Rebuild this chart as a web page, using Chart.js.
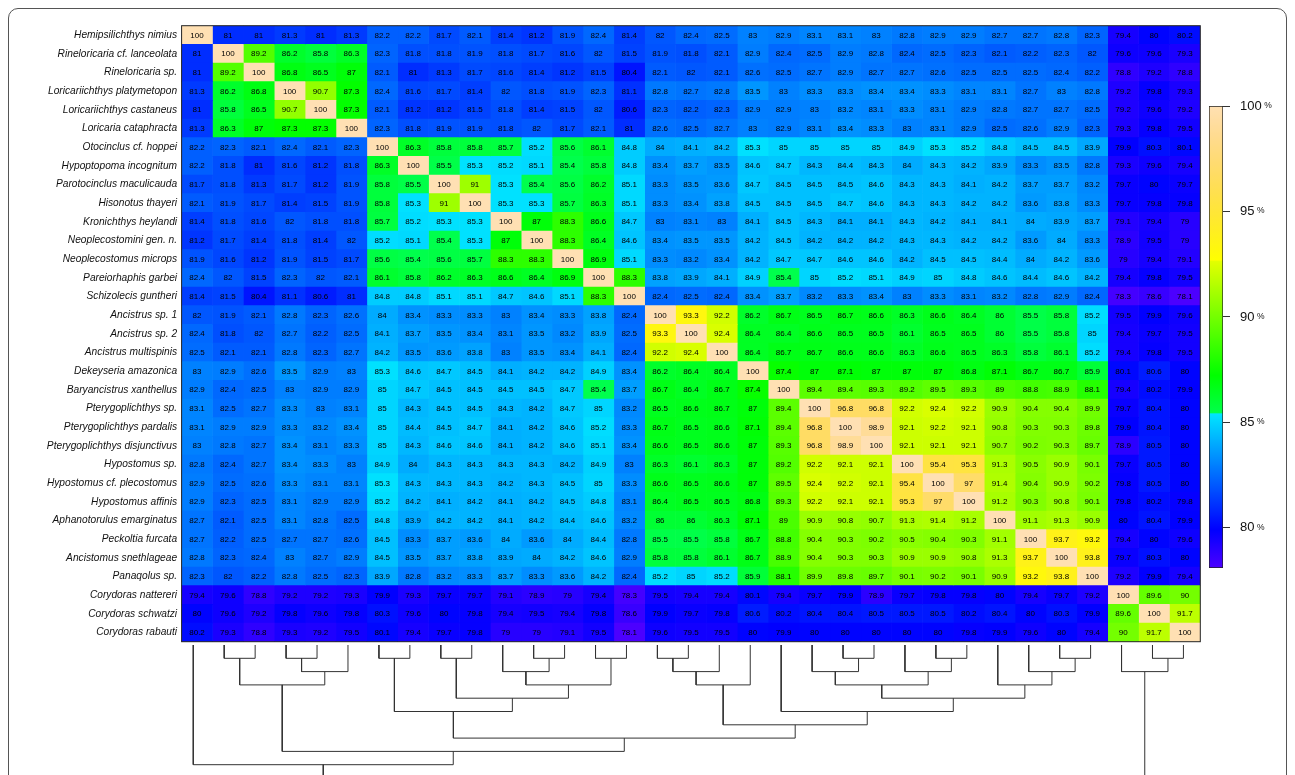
<!DOCTYPE html>
<html>
<head>
<meta charset="utf-8">
<script src="https://cdn.jsdelivr.net/npm/chart.js@4.4.1/dist/chart.umd.min.js"></script>
<style>
  html, body { margin: 0; padding: 0; background: #fff; width: 1295px; height: 775px; overflow: hidden; position: relative; }
  #frame { position: absolute; left: 8px; top: 8px; width: 1279px; height: 800px; border: 1px solid #555; border-radius: 10px; box-sizing: border-box; }
  canvas { position: absolute; }
  #heat { left: 0; top: 0; }
  #tree { left: 0; top: 640px; }
  #legend { left: 1190px; top: 90px; }
</style>
</head>
<body>
<div id="frame"></div>
<canvas id="heat" width="1295" height="660"></canvas>
<canvas id="tree" width="1295" height="160"></canvas>
<canvas id="legend" width="100" height="500"></canvas>
<script>
// Species, in dendrogram order (rows top to bottom, columns left to right)
const species = [
  "Hemipsilichthys nimius", "Rineloricaria cf. lanceolata", "Rineloricaria sp.",
  "Loricariichthys platymetopon", "Loricariichthys castaneus", "Loricaria cataphracta",
  "Otocinclus cf. hoppei", "Hypoptopoma incognitum", "Parotocinclus maculicauda",
  "Hisonotus thayeri", "Kronichthys heylandi", "Neoplecostomini gen. n.",
  "Neoplecostomus microps", "Pareiorhaphis garbei", "Schizolecis guntheri",
  "Ancistrus sp. 1", "Ancistrus sp. 2", "Ancistrus multispinis",
  "Dekeyseria amazonica", "Baryancistrus xanthellus", "Pterygoplichthys sp.",
  "Pterygoplichthys pardalis", "Pterygoplichthys disjunctivus", "Hypostomus sp.",
  "Hypostomus cf. plecostomus", "Hypostomus affinis", "Aphanotorulus emarginatus",
  "Peckoltia furcata", "Ancistomus snethlageae", "Panaqolus sp.",
  "Corydoras nattereri", "Corydoras schwatzi", "Corydoras rabauti"
];

// Pairwise sequence identity (%), one row per species
const identityRows = [
  [100,81,81,81.3,81,81.3,82.2,82.2,81.7,82.1,81.4,81.2,81.9,82.4,81.4,82,82.4,82.5,83,82.9,83.1,83.1,83,82.8,82.9,82.9,82.7,82.7,82.8,82.3,79.4,80,80.2],
  [81,100,89.2,86.2,85.8,86.3,82.3,81.8,81.8,81.9,81.8,81.7,81.6,82,81.5,81.9,81.8,82.1,82.9,82.4,82.5,82.9,82.8,82.4,82.5,82.3,82.1,82.2,82.3,82,79.6,79.6,79.3],
  [81,89.2,100,86.8,86.5,87,82.1,81,81.3,81.7,81.6,81.4,81.2,81.5,80.4,82.1,82,82.1,82.6,82.5,82.7,82.9,82.7,82.7,82.6,82.5,82.5,82.5,82.4,82.2,78.8,79.2,78.8],
  [81.3,86.2,86.8,100,90.7,87.3,82.4,81.6,81.7,81.4,82,81.8,81.9,82.3,81.1,82.8,82.7,82.8,83.5,83,83.3,83.3,83.4,83.4,83.3,83.1,83.1,82.7,83,82.8,79.2,79.8,79.3],
  [81,85.8,86.5,90.7,100,87.3,82.1,81.2,81.2,81.5,81.8,81.4,81.5,82,80.6,82.3,82.2,82.3,82.9,82.9,83,83.2,83.1,83.3,83.1,82.9,82.8,82.7,82.7,82.5,79.2,79.6,79.2],
  [81.3,86.3,87,87.3,87.3,100,82.3,81.8,81.9,81.9,81.8,82,81.7,82.1,81,82.6,82.5,82.7,83,82.9,83.1,83.4,83.3,83,83.1,82.9,82.5,82.6,82.9,82.3,79.3,79.8,79.5],
  [82.2,82.3,82.1,82.4,82.1,82.3,100,86.3,85.8,85.8,85.7,85.2,85.6,86.1,84.8,84,84.1,84.2,85.3,85,85,85,85,84.9,85.3,85.2,84.8,84.5,84.5,83.9,79.9,80.3,80.1],
  [82.2,81.8,81,81.6,81.2,81.8,86.3,100,85.5,85.3,85.2,85.1,85.4,85.8,84.8,83.4,83.7,83.5,84.6,84.7,84.3,84.4,84.3,84,84.3,84.2,83.9,83.3,83.5,82.8,79.3,79.6,79.4],
  [81.7,81.8,81.3,81.7,81.2,81.9,85.8,85.5,100,91,85.3,85.4,85.6,86.2,85.1,83.3,83.5,83.6,84.7,84.5,84.5,84.5,84.6,84.3,84.3,84.1,84.2,83.7,83.7,83.2,79.7,80,79.7],
  [82.1,81.9,81.7,81.4,81.5,81.9,85.8,85.3,91,100,85.3,85.3,85.7,86.3,85.1,83.3,83.4,83.8,84.5,84.5,84.5,84.7,84.6,84.3,84.3,84.2,84.2,83.6,83.8,83.3,79.7,79.8,79.8],
  [81.4,81.8,81.6,82,81.8,81.8,85.7,85.2,85.3,85.3,100,87,88.3,86.6,84.7,83,83.1,83,84.1,84.5,84.3,84.1,84.1,84.3,84.2,84.1,84.1,84,83.9,83.7,79.1,79.4,79],
  [81.2,81.7,81.4,81.8,81.4,82,85.2,85.1,85.4,85.3,87,100,88.3,86.4,84.6,83.4,83.5,83.5,84.2,84.5,84.2,84.2,84.2,84.3,84.3,84.2,84.2,83.6,84,83.3,78.9,79.5,79],
  [81.9,81.6,81.2,81.9,81.5,81.7,85.6,85.4,85.6,85.7,88.3,88.3,100,86.9,85.1,83.3,83.2,83.4,84.2,84.7,84.7,84.6,84.6,84.2,84.5,84.5,84.4,84,84.2,83.6,79,79.4,79.1],
  [82.4,82,81.5,82.3,82,82.1,86.1,85.8,86.2,86.3,86.6,86.4,86.9,100,88.3,83.8,83.9,84.1,84.9,85.4,85,85.2,85.1,84.9,85,84.8,84.6,84.4,84.6,84.2,79.4,79.8,79.5],
  [81.4,81.5,80.4,81.1,80.6,81,84.8,84.8,85.1,85.1,84.7,84.6,85.1,88.3,100,82.4,82.5,82.4,83.4,83.7,83.2,83.3,83.4,83,83.3,83.1,83.2,82.8,82.9,82.4,78.3,78.6,78.1],
  [82,81.9,82.1,82.8,82.3,82.6,84,83.4,83.3,83.3,83,83.4,83.3,83.8,82.4,100,93.3,92.2,86.2,86.7,86.5,86.7,86.6,86.3,86.6,86.4,86,85.5,85.8,85.2,79.5,79.9,79.6],
  [82.4,81.8,82,82.7,82.2,82.5,84.1,83.7,83.5,83.4,83.1,83.5,83.2,83.9,82.5,93.3,100,92.4,86.4,86.4,86.6,86.5,86.5,86.1,86.5,86.5,86,85.5,85.8,85,79.4,79.7,79.5],
  [82.5,82.1,82.1,82.8,82.3,82.7,84.2,83.5,83.6,83.8,83,83.5,83.4,84.1,82.4,92.2,92.4,100,86.4,86.7,86.7,86.6,86.6,86.3,86.6,86.5,86.3,85.8,86.1,85.2,79.4,79.8,79.5],
  [83,82.9,82.6,83.5,82.9,83,85.3,84.6,84.7,84.5,84.1,84.2,84.2,84.9,83.4,86.2,86.4,86.4,100,87.4,87,87.1,87,87,87,86.8,87.1,86.7,86.7,85.9,80.1,80.6,80],
  [82.9,82.4,82.5,83,82.9,82.9,85,84.7,84.5,84.5,84.5,84.5,84.7,85.4,83.7,86.7,86.4,86.7,87.4,100,89.4,89.4,89.3,89.2,89.5,89.3,89,88.8,88.9,88.1,79.4,80.2,79.9],
  [83.1,82.5,82.7,83.3,83,83.1,85,84.3,84.5,84.5,84.3,84.2,84.7,85,83.2,86.5,86.6,86.7,87,89.4,100,96.8,96.8,92.2,92.4,92.2,90.9,90.4,90.4,89.9,79.7,80.4,80],
  [83.1,82.9,82.9,83.3,83.2,83.4,85,84.4,84.5,84.7,84.1,84.2,84.6,85.2,83.3,86.7,86.5,86.6,87.1,89.4,96.8,100,98.9,92.1,92.2,92.1,90.8,90.3,90.3,89.8,79.9,80.4,80],
  [83,82.8,82.7,83.4,83.1,83.3,85,84.3,84.6,84.6,84.1,84.2,84.6,85.1,83.4,86.6,86.5,86.6,87,89.3,96.8,98.9,100,92.1,92.1,92.1,90.7,90.2,90.3,89.7,78.9,80.5,80],
  [82.8,82.4,82.7,83.4,83.3,83,84.9,84,84.3,84.3,84.3,84.3,84.2,84.9,83,86.3,86.1,86.3,87,89.2,92.2,92.1,92.1,100,95.4,95.3,91.3,90.5,90.9,90.1,79.7,80.5,80],
  [82.9,82.5,82.6,83.3,83.1,83.1,85.3,84.3,84.3,84.3,84.2,84.3,84.5,85,83.3,86.6,86.5,86.6,87,89.5,92.4,92.2,92.1,95.4,100,97,91.4,90.4,90.9,90.2,79.8,80.5,80],
  [82.9,82.3,82.5,83.1,82.9,82.9,85.2,84.2,84.1,84.2,84.1,84.2,84.5,84.8,83.1,86.4,86.5,86.5,86.8,89.3,92.2,92.1,92.1,95.3,97,100,91.2,90.3,90.8,90.1,79.8,80.2,79.8],
  [82.7,82.1,82.5,83.1,82.8,82.5,84.8,83.9,84.2,84.2,84.1,84.2,84.4,84.6,83.2,86,86,86.3,87.1,89,90.9,90.8,90.7,91.3,91.4,91.2,100,91.1,91.3,90.9,80,80.4,79.9],
  [82.7,82.2,82.5,82.7,82.7,82.6,84.5,83.3,83.7,83.6,84,83.6,84,84.4,82.8,85.5,85.5,85.8,86.7,88.8,90.4,90.3,90.2,90.5,90.4,90.3,91.1,100,93.7,93.2,79.4,80,79.6],
  [82.8,82.3,82.4,83,82.7,82.9,84.5,83.5,83.7,83.8,83.9,84,84.2,84.6,82.9,85.8,85.8,86.1,86.7,88.9,90.4,90.3,90.3,90.9,90.9,90.8,91.3,93.7,100,93.8,79.7,80.3,80],
  [82.3,82,82.2,82.8,82.5,82.3,83.9,82.8,83.2,83.3,83.7,83.3,83.6,84.2,82.4,85.2,85,85.2,85.9,88.1,89.9,89.8,89.7,90.1,90.2,90.1,90.9,93.2,93.8,100,79.2,79.9,79.4],
  [79.4,79.6,78.8,79.2,79.2,79.3,79.9,79.3,79.7,79.7,79.1,78.9,79,79.4,78.3,79.5,79.4,79.4,80.1,79.4,79.7,79.9,78.9,79.7,79.8,79.8,80,79.4,79.7,79.2,100,89.6,90],
  [80,79.6,79.2,79.8,79.6,79.8,80.3,79.6,80,79.8,79.4,79.5,79.4,79.8,78.6,79.9,79.7,79.8,80.6,80.2,80.4,80.4,80.5,80.5,80.5,80.2,80.4,80,80.3,79.9,89.6,100,91.7],
  [80.2,79.3,78.8,79.3,79.2,79.5,80.1,79.4,79.7,79.8,79,79,79.1,79.5,78.1,79.6,79.5,79.5,80,79.9,80,80,80,80,80,79.8,79.9,79.6,80,79.4,90,91.7,100]
];

// Colour key range and its labelled ticks (%)
const keyMin = 78.1;
const keyMax = 100;
const keyTicks = [80, 85, 90, 95, 100];

// Clustering: hclust-style merges (negative = single species, positive = earlier merge)
const mergePairs = [
  [-2, -3], [-4, -5], [-7, -8], [-9, -10], [-12, -13], [-14, -15], [-16, -17],
  [-22, -23], [-25, -26], [-29, -30], [-32, -33],
  [2, -6], [-11, 5], [7, -18], [-21, 8], [-24, 9], [-28, 10], [-31, 11],
  [1, 12], [13, 6], [14, -19], [15, 16], [-27, 17],
  [4, 20], [22, 23],
  [3, 24], [-20, 25],
  [21, 27],
  [26, 28],
  [19, 29],
  [-1, 30],
  [31, 18]
];
const mergeLevels = [
  1, 1, 1, 1, 1, 1, 1, 1, 1, 1, 1,
  2, 2, 2, 2, 2, 2, 2,
  3, 3, 3, 3, 3,
  4, 4,
  5, 5,
  6,
  7,
  8,
  9,
  10
];

// R topo.colors, evaluated continuously over the key range
function hsvColor(h, s, v) {
  const c = v * s, hp = h / 60, x = c * (1 - Math.abs((hp % 2) - 1));
  let r = 0, g = 0, b = 0;
  if (hp < 1) { r = c; g = x; } else if (hp < 2) { r = x; g = c; }
  else if (hp < 3) { g = c; b = x; } else if (hp < 4) { g = x; b = c; }
  else if (hp < 5) { r = x; b = c; } else { r = c; b = x; }
  const m = v - c;
  return `rgb(${Math.round((r + m) * 255)},${Math.round((g + m) * 255)},${Math.round((b + m) * 255)})`;
}
function topoColor(val) {
  let t = (val - keyMin) / (keyMax - keyMin);
  t = Math.max(0, Math.min(1, t));
  if (t < 1 / 3) return hsvColor(258 - 72 * (t * 3), 1, 1);
  if (t < 2 / 3) return hsvColor(138 - 72 * ((t - 1 / 3) * 3), 1, 1);
  const f = (t - 2 / 3) * 3;
  return hsvColor(60 - 24 * f, 1 - 0.7 * f, 1);
}

const FONT = '"Liberation Sans", Arial, Helvetica, sans-serif';

// ---------- heat map: one floating-bar dataset per column ----------
const heatDatasets = species.map((_, j) => ({
  label: species[j],
  data: species.map(() => [j - 0.5, j + 0.5]),
  values: identityRows.map(row => row[j]),
  backgroundColor: identityRows.map(row => topoColor(row[j])),
  borderWidth: 0,
  barPercentage: 1,
  categoryPercentage: 1,
  grouped: false
}));

const cellText = {
  id: 'cellText',
  afterDatasetsDraw(chart) {
    const ctx = chart.ctx;
    ctx.save();
    ctx.font = '8px ' + FONT;
    ctx.fillStyle = '#000';
    ctx.textAlign = 'center';
    ctx.textBaseline = 'middle';
    chart.data.datasets.forEach((ds, j) => {
      chart.getDatasetMeta(j).data.forEach((bar, i) => {
        const p = bar.getCenterPoint();
        ctx.fillText(String(ds.values[i]), p.x, p.y + 0.5);
      });
    });
    const a = chart.chartArea;
    ctx.strokeStyle = '#222';
    ctx.lineWidth = 1;
    ctx.strokeRect(a.left, a.top, a.right - a.left, a.bottom - a.top);
    ctx.restore();
  }
};

new Chart(document.getElementById('heat'), {
  type: 'bar',
  data: { labels: species, datasets: heatDatasets },
  options: {
    indexAxis: 'y',
    responsive: false,
    animation: false,
    layout: { padding: { left: 0, top: 25.7, right: 94.7, bottom: 18.3 } },
    plugins: { legend: { display: false }, tooltip: { enabled: false } },
    scales: {
      x: { type: 'linear', min: -0.5, max: species.length - 0.5, display: false },
      y: {
        type: 'category',
        grid: { display: false, drawTicks: false },
        border: { display: false },
        ticks: {
          autoSkip: false,
          padding: 4.5,
          color: '#111',
          font: { family: FONT, style: 'italic', size: 10.2 }
        },
        afterFit(scale) { scale.width = 181.6; }
      }
    }
  },
  plugins: [cellText]
});

// ---------- dendrogram under the columns ----------
const treeDatasets = [];
const nodeX = [], nodeH = [];
mergePairs.forEach(([a, b], k) => {
  const xa = a < 0 ? -a - 1 : nodeX[a - 1];
  const ha = a < 0 ? 0 : nodeH[a - 1];
  const xb = b < 0 ? -b - 1 : nodeX[b - 1];
  const hb = b < 0 ? 0 : nodeH[b - 1];
  const h = mergeLevels[k];
  nodeX[k] = (xa + xb) / 2;
  nodeH[k] = h;
  treeDatasets.push({
    data: [{ x: xa, y: ha }, { x: xa, y: h }, { x: xb, y: h }, { x: xb, y: hb }],
    showLine: true,
    borderColor: '#333',
    borderWidth: 1,
    pointRadius: 0,
    tension: 0,
    fill: false
  });
});

new Chart(document.getElementById('tree'), {
  type: 'scatter',
  data: { datasets: treeDatasets },
  options: {
    responsive: false,
    animation: false,
    layout: { padding: { left: 177.8, right: 96.1, top: 5, bottom: 8.7 } },
    plugins: { legend: { display: false }, tooltip: { enabled: false } },
    scales: {
      x: { type: 'linear', min: -0.5, max: species.length - 0.5, display: false },
      y: { type: 'linear', min: 0, max: 11, reverse: true, display: false }
    }
  }
});

// ---------- colour key ----------
const keyLabels = {
  id: 'keyLabels',
  afterDraw(chart) {
    const s = chart.scales.y;
    const ctx = chart.ctx;
    ctx.save();
    ctx.fillStyle = '#111';
    ctx.textAlign = 'left';
    ctx.textBaseline = 'middle';
    keyTicks.forEach(v => {
      const y = s.getPixelForValue(v);
      const x = s.left + 17;
      ctx.font = '13px ' + FONT;
      const txt = String(v);
      ctx.fillText(txt, x, y);
      const w = ctx.measureText(txt).width;
      ctx.font = '8.5px ' + FONT;
      ctx.fillText('%', x + w + 2.5, y - 0.5);
    });
    ctx.restore();
  }
};

new Chart(document.getElementById('legend'), {
  type: 'bar',
  data: {
    labels: [''],
    datasets: [{
      data: [[keyMin, keyMax]],
      backgroundColor(c) {
        const chart = c.chart;
        if (!chart.chartArea) return '#fff';
        const s = chart.scales.y;
        const y0 = s.getPixelForValue(keyMin), y1 = s.getPixelForValue(keyMax);
        const g = chart.ctx.createLinearGradient(0, y0, 0, y1);
        const N = 300;
        for (let k = 0; k <= N; k++) {
          g.addColorStop(k / N, topoColor(keyMin + (keyMax - keyMin) * k / N));
        }
        return g;
      },
      borderColor: '#222',
      borderWidth: 1,
      borderSkipped: false,
      barPercentage: 1,
      categoryPercentage: 1
    }]
  },
  options: {
    responsive: false,
    animation: false,
    layout: { padding: { left: 19, top: 16, bottom: 22, right: 0 } },
    plugins: { legend: { display: false }, tooltip: { enabled: false } },
    scales: {
      x: { display: false },
      y: {
        type: 'linear',
        position: 'right',
        min: keyMin,
        max: keyMax,
        afterBuildTicks(scale) { scale.ticks = keyTicks.map(v => ({ value: v })); },
        grid: { display: true, drawOnChartArea: false, drawTicks: true, tickLength: 7, color: '#333', lineWidth: 1 },
        border: { display: false },
        ticks: { display: false },
        afterFit(scale) { scale.width = 67; }
      }
    }
  },
  plugins: [keyLabels]
});
</script>
</body>
</html>
